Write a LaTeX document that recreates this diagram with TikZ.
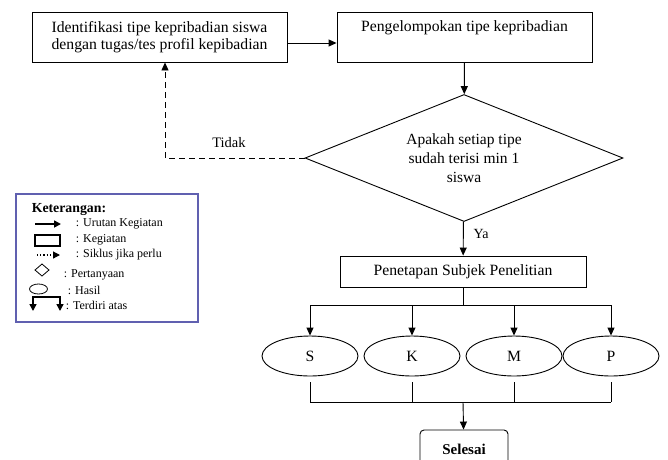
\documentclass[tikz,border=0pt]{standalone}
\usepackage{fontspec}
\setmainfont{Liberation Serif}
\usetikzlibrary{arrows.meta,shapes.geometric}
\definecolor{ungu-ket}{RGB}{96,96,176}

\begin{document}
\begin{tikzpicture}[x=1pt, y=-1pt, >={Triangle[length=8pt,width=7pt]}, line width=0.9pt,
	   font=\fontsize{15.7}{17}\selectfont,
	   kotak/.style={draw, rectangle, inner sep=0pt, align=center},
	   hasil/.style={draw, ellipse, inner sep=0pt, minimum width=96pt, minimum height=40pt},
	   ket/.style={anchor=west, font=\fontsize{12}{13}\selectfont},
	   simbol/.style={line width=1.6pt, >={Triangle[length=7pt,width=7pt]}}]
	  \useasboundingbox (0,0) rectangle (668,459);
	  \clip (0,0) rectangle (668,459);
	  % alur utama
	  \node[kotak, minimum width=255pt, minimum height=50pt] (ident) at (159.5,37) {Identifikasi tipe kepribadian siswa\\ dengan tugas/tes profil kepibadian};
	  \node[kotak, minimum width=255pt, minimum height=50pt] (kelompok) at (464.5,37) {Pengelompokan tipe kepribadian\\ \strut};
	  \node[draw, diamond, shape aspect=2.5, inner sep=0pt, minimum width=318pt, minimum height=127pt, align=center,
	        font=\fontsize{15.5}{19}\selectfont] (tanya) at (464,158) {Apakah setiap tipe\\ sudah terisi min 1\\ siswa};
	  \node[kotak, minimum width=246pt, minimum height=31pt] (tetap) at (463,271.5) {Penetapan Subjek Penelitian};
	  \node[hasil] (S) at (310,356) {S};
	  \node[hasil] (K) at (412,356) {K};
	  \node[hasil] (M) at (514,356) {M};
	  \node[hasil] (P) at (611,356) {P};
	  \node[kotak, rounded corners=4pt, minimum width=88pt, minimum height=40pt, font=\fontsize{15}{17}\selectfont\bfseries] (selesai) at (464,450) {\raisebox{2pt}{Selesai}};
	  \draw[->] (ident.east |- 0,43) -- (kelompok.west |- 0,43);
	  \draw[->] (kelompok) -- (tanya);
	  \draw[->] (tanya) -- (tetap);
	  \node[font=\fontsize{14}{16}\selectfont] (ya) at (481,234) {Ya};
	  % siklus
	  \coordinate (balik) at (165,158);
	  \draw[->, dashed, dash pattern=on 6pt off 4pt] (tanya.west) -- (balik) -- (balik |- ident.south);
	  \node[font=\fontsize{14.5}{16}\selectfont] (tidak) at (229,143) {Tidak};
	  % terdiri atas
	  \coordinate (bagi) at (463,305);
	  \coordinate (gabung) at (463,402);
	  \draw (tetap) -- (bagi);
	  \draw (S |- bagi) -- (P |- bagi);
	  \foreach \h in {S,K,M,P} {
	    \draw[->] (\h |- bagi) -- (\h);
	    \draw ([yshift=-6pt]\h.south) -- (\h |- gabung);
	  }
	  \draw (S |- gabung) -- (P |- gabung);
	  \draw[->] (gabung) -- (selesai);
	  % keterangan
	  \draw[ungu-ket, line width=1.4pt] (16,194) rectangle (198,322);
	  \node[anchor=west, font=\fontsize{13.8}{15}\selectfont\bfseries] (judul) at (28,209) {Keterangan:};
	  \draw[simbol, ->] (35,224) -- (61,224);
	  \node[ket] (k1) at (72,224) {: Urutan Kegiatan};
	  \draw[simbol] (35,235) rectangle (60,246);
	  \node[ket] (k2) at (72,240) {: Kegiatan};
	  \draw[simbol, ->, line width=1.2pt, dotted] (37,255) -- (60,255);
	  \node[ket] (k3) at (72,255) {: Siklus jika perlu};
	  \draw[line width=0.8pt] (42,264) -- (49,270) -- (42,276) -- (35,270) -- cycle;
	  \node[ket] (k4) at (60,275) {: Pertanyaan};
	  \draw[line width=0.8pt] (38.5,289) ellipse (9pt and 5pt);
	  \node[ket] (k5) at (64,290) {: Hasil};
	  \draw[simbol, <->, line width=1.4pt] (33,311) -- (33,297) -- (60,297) -- (60,311);
	  \node[ket] (k6) at (62,305) {: Terdiri atas};
	\end{tikzpicture}
\end{document}
